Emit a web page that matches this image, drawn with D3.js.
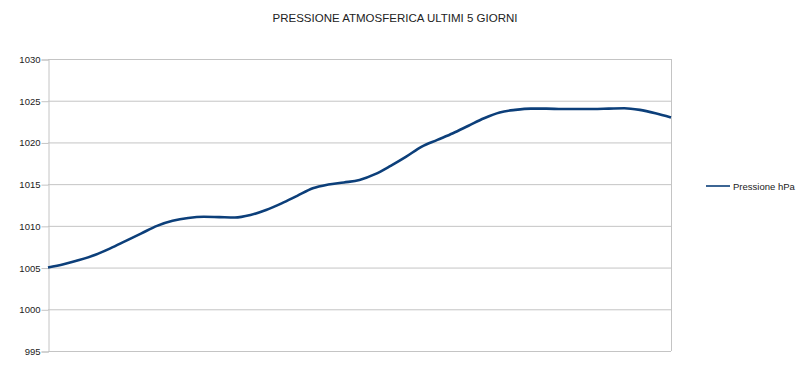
<!DOCTYPE html>
<html>
<head>
<meta charset="utf-8">
<script src="https://cdn.jsdelivr.net/npm/d3@7"></script>
<style>
  body { margin: 0; background: #fff; }
  svg { display: block; font-family: "Liberation Sans", Arial, sans-serif; }
</style>
</head>
<body>
<svg width="800" height="369"></svg>
<script>
// pressione atmosferica, letture lungo gli ultimi 5 giorni
let pressione = [
  1005.0, 1005.4, 1005.9, 1006.5, 1007.3, 1008.2, 1009.1, 1010.0, 1010.6, 1010.95,
  1011.1, 1011.05, 1011.0, 1011.3, 1011.9, 1012.7, 1013.6, 1014.5, 1014.95, 1015.2,
  1015.5, 1016.2, 1017.2, 1018.3, 1019.5, 1020.3, 1021.1, 1022.0, 1022.9, 1023.6,
  1023.9, 1024.05, 1024.05, 1024.0, 1024.0, 1024.0, 1024.05, 1024.1, 1023.9, 1023.5,
  1023.0
]
let yTicks = [995, 1000, 1005, 1010, 1015, 1020, 1025, 1030]
let titolo = 'PRESSIONE ATMOSFERICA ULTIMI 5 GIORNI'
let serieNome = 'Pressione hPa'

var svg = d3.select('svg')

let plotLeft = 48, plotRight = 671, plotTop = 59, plotBottom = 351

let x = d3.scaleLinear().domain([0, pressione.length - 1]).range([plotLeft, plotRight])
let y = d3.scaleLinear().domain([995, 1030]).range([plotBottom, plotTop])

// griglia orizzontale
svg.append('g')
  .selectAll('line')
  .data(yTicks)
  .enter()
  .append('line')
  .attr('x1', plotLeft)
  .attr('x2', plotRight)
  .attr('y1', d => y(d) + 0.5)
  .attr('y2', d => y(d) + 0.5)
  .attr('stroke', '#c4c4c4')
  .attr('stroke-width', 1)

// asse y
let yAxis = d3.axisLeft(y).tickValues(yTicks).tickFormat(d3.format('d')).tickSize(7).tickPadding(1)
let gy = svg.append('g')
  .attr('transform', 'translate(' + (plotLeft + 0.5) + ',0.5)')
  .call(yAxis)
gy.select('.domain').attr('stroke', '#c4c4c4')
gy.selectAll('.tick line').attr('stroke', '#c4c4c4')
gy.selectAll('.tick text')
  .attr('fill', '#222')
  .style('font-size', '9.5px')
  .style('font-family', '"Liberation Sans", Arial, sans-serif')

// bordo destro
svg.append('line')
  .attr('x1', plotRight + 0.5).attr('x2', plotRight + 0.5)
  .attr('y1', plotTop).attr('y2', plotBottom)
  .attr('stroke', '#c4c4c4')

// linea dati
let line = d3.line()
  .x((d, i) => x(i))
  .y(d => y(d))
  .curve(d3.curveMonotoneX)

svg.append('path')
  .datum(pressione)
  .attr('d', line)
  .attr('fill', 'none')
  .attr('stroke', '#0c3f7a')
  .attr('stroke-width', 2.6)
  .attr('stroke-linejoin', 'round')

// titolo
svg.append('text')
  .attr('x', 395)
  .attr('y', 22)
  .attr('text-anchor', 'middle')
  .attr('fill', '#222')
  .style('font-size', '11.5px')
  .text(titolo)

// legenda
let leg = svg.append('g').attr('transform', 'translate(706,186)')
leg.append('line')
  .attr('x1', 0).attr('x2', 24)
  .attr('y1', 0).attr('y2', 0)
  .attr('stroke', '#0c3f7a')
  .attr('stroke-width', 1.6)
leg.append('text')
  .attr('x', 27)
  .attr('y', 3.5)
  .attr('fill', '#222')
  .style('font-size', '9.5px')
  .text(serieNome)
</script>
</body>
</html>
